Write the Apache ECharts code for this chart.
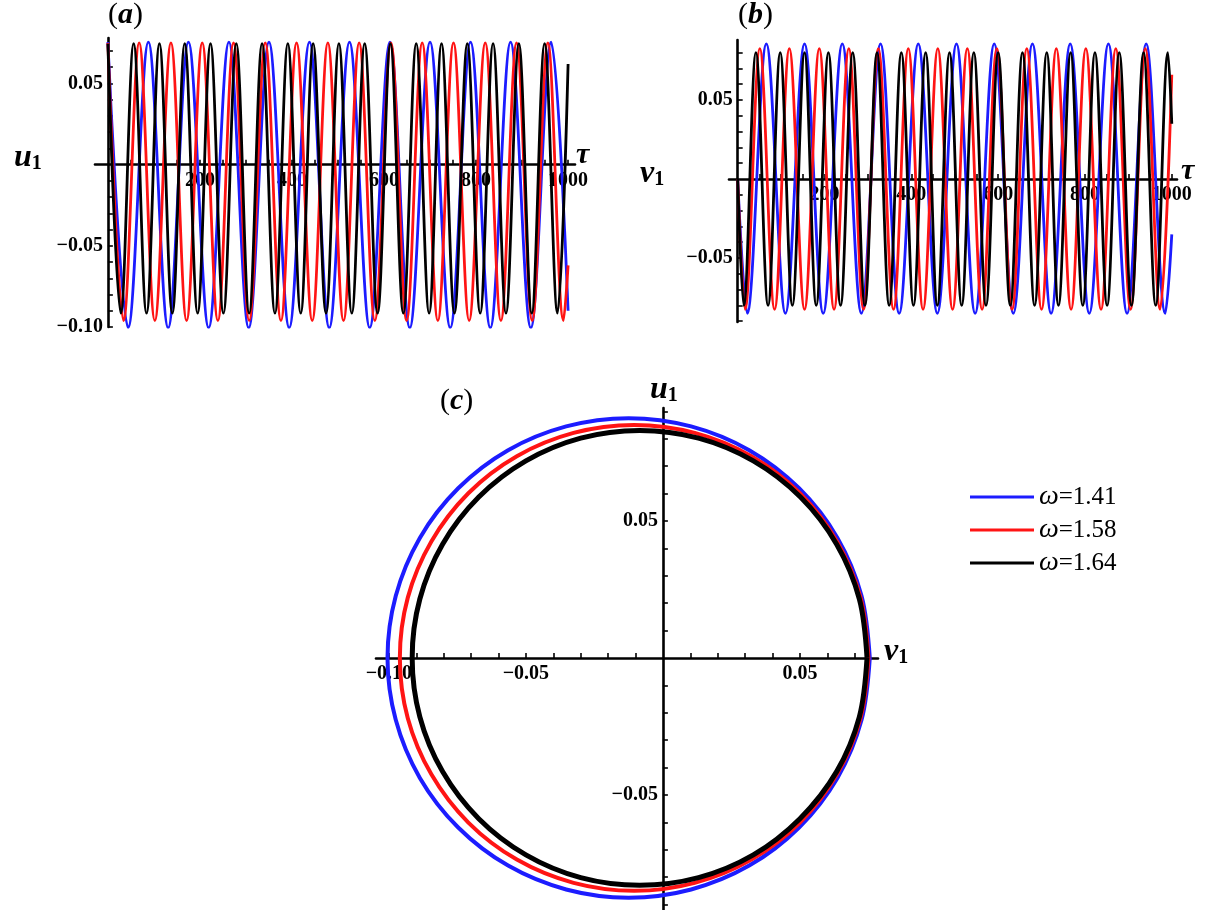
<!DOCTYPE html>
<html>
<head>
<meta charset="utf-8">
<script src="https://cdn.jsdelivr.net/npm/echarts@6/dist/echarts.min.js"></script>
<style>
  html, body { margin: 0; padding: 0; background: #ffffff; }
  #chart { width: 1210px; height: 910px; }
</style>
</head>
<body>
<div id="chart"></div>
<script>
// ---- series identity ----
const seriesNames = ['ω=1.41', 'ω=1.58', 'ω=1.64'];
const seriesColors = ['#1c1cff', '#ff1414', '#000000'];

// ---- (a) u1 versus tau: turning points [tau, u1] ----
const u1Blue = [[0,0.0755],[44,-0.1005],[88,0.0755],[131,-0.1005],[175,0.0755],[219,-0.1005],[263,0.0755],[306,-0.1005],[350,0.0755],[394,-0.1005],[438,0.0755],[481,-0.1005],[525,0.0755],[569,-0.1005],[613,0.0755],[656,-0.1005],[700,0.0755],[744,-0.1005],[788,0.0755],[831,-0.1005],[875,0.0755],[919,-0.1005],[963,0.0755],[1000,-0.090]];
const u1Red = [[0,0.075],[34,-0.096],[68,0.075],[102,-0.096],[137,0.075],[171,-0.096],[205,0.075],[239,-0.096],[273,0.075],[307,-0.096],[342,0.075],[376,-0.096],[410,0.075],[444,-0.096],[478,0.075],[512,-0.096],[546,0.075],[580,-0.096],[615,0.075],[649,-0.096],[683,0.075],[717,-0.096],[751,0.075],[785,-0.096],[820,0.075],[854,-0.096],[888,0.075],[922,-0.096],[956,0.075],[990,-0.096],[1000,-0.062]];
const u1Black = [[0,0.0745],[28,-0.0915],[56,0.0745],[84,-0.0915],[112,0.0745],[140,-0.0915],[167,0.0745],[195,-0.0915],[223,0.0745],[251,-0.0915],[279,0.0745],[307,-0.0915],[335,0.0745],[363,-0.0915],[391,0.0745],[419,-0.0915],[446,0.0745],[474,-0.0915],[502,0.0745],[530,-0.0915],[558,0.0745],[586,-0.0915],[614,0.0745],[642,-0.0915],[670,0.0745],[698,-0.0915],[725,0.0745],[753,-0.0915],[781,0.0745],[809,-0.0915],[837,0.0745],[865,-0.0915],[893,0.0745],[921,-0.0915],[949,0.0745],[977,-0.0915],[1000,0.062]];

// ---- (b) v1 versus tau: turning points [tau, v1] ----
const v1Blue = [[0,0],[22,-0.085],[66,0.0855],[110,-0.085],[154,0.0855],[197,-0.085],[241,0.0855],[285,-0.085],[329,0.0855],[372,-0.085],[416,0.0855],[460,-0.085],[504,0.0855],[547,-0.085],[591,0.0855],[635,-0.085],[679,0.0855],[722,-0.085],[766,0.0855],[810,-0.085],[854,0.0855],[897,-0.085],[941,0.0855],[985,-0.085],[1000,-0.035]];
const v1Red = [[0,0],[17,-0.0825],[51,0.0825],[85,-0.0825],[119,0.0825],[154,-0.0825],[188,0.0825],[222,-0.0825],[256,0.0825],[290,-0.0825],[324,0.0825],[359,-0.0825],[393,0.0825],[427,-0.0825],[461,0.0825],[495,-0.0825],[529,0.0825],[563,-0.0825],[597,0.0825],[632,-0.0825],[666,0.0825],[700,-0.0825],[734,0.0825],[768,-0.0825],[802,0.0825],[837,-0.0825],[871,0.0825],[905,-0.0825],[939,0.0825],[973,-0.0825],[1000,0.066]];
const v1Black = [[0,0],[14,-0.08],[42,0.08],[70,-0.08],[98,0.08],[126,-0.08],[154,0.08],[181,-0.08],[209,0.08],[237,-0.08],[265,0.08],[293,-0.08],[321,0.08],[349,-0.08],[377,0.08],[405,-0.08],[433,0.08],[460,-0.08],[488,0.08],[516,-0.08],[544,0.08],[572,-0.08],[600,0.08],[628,-0.08],[656,0.08],[684,-0.08],[712,0.08],[739,-0.08],[767,0.08],[795,-0.08],[823,0.08],[851,-0.08],[879,0.08],[907,-0.08],[935,0.08],[963,-0.08],[991,0.08],[1000,0.035]];

// ---- (c) phase portrait: closed orbits [v1, u1] ----
const orbitBlue = [[0.0755,0],[0.0725,0.0226],[0.0637,0.0438],[0.0497,0.0619],[0.0315,0.0758],[0.0103,0.0845],[-0.0125,0.0875],[-0.0353,0.0845],[-0.0565,0.0758],[-0.0747,0.0619],[-0.0887,0.0438],[-0.0975,0.0226],[-0.1005,0],[-0.0975,-0.0226],[-0.0887,-0.0438],[-0.0747,-0.0619],[-0.0565,-0.0758],[-0.0353,-0.0845],[-0.0125,-0.0875],[0.0103,-0.0845],[0.0315,-0.0758],[0.0497,-0.0619],[0.0637,-0.0438],[0.0725,-0.0226],[0.0755,0]];
const orbitRed = [[0.0750,0],[0.0721,0.0220],[0.0635,0.0425],[0.0500,0.0601],[0.0323,0.0736],[0.0116,0.0821],[-0.0105,0.085],[-0.0326,0.0821],[-0.0533,0.0736],[-0.0710,0.0601],[-0.0845,0.0425],[-0.0931,0.0220],[-0.0960,0],[-0.0931,-0.0220],[-0.0845,-0.0425],[-0.0710,-0.0601],[-0.0533,-0.0736],[-0.0326,-0.0821],[-0.0105,-0.085],[0.0116,-0.0821],[0.0323,-0.0736],[0.0500,-0.0601],[0.0635,-0.0425],[0.0721,-0.0220],[0.0750,0]];
const orbitBlack = [[0.0745,0],[0.0717,0.0215],[0.0634,0.0415],[0.0502,0.0587],[0.0330,0.0719],[0.0130,0.0802],[-0.0085,0.083],[-0.0300,0.0802],[-0.0500,0.0719],[-0.0672,0.0587],[-0.0804,0.0415],[-0.0887,0.0215],[-0.0915,0],[-0.0887,-0.0215],[-0.0804,-0.0415],[-0.0672,-0.0587],[-0.0500,-0.0719],[-0.0300,-0.0802],[-0.0085,-0.083],[0.0130,-0.0802],[0.0330,-0.0719],[0.0500,-0.0587],[0.0634,-0.0415],[0.0717,-0.0215],[0.0745,0]];

// ---- tick marks and tick labels ----
const tauTickMarks = [50,100,150,200,250,300,350,400,450,500,550,600,650,700,750,800,850,900,950,1000];
const tauTickLabels = [200,400,600,800,1000];
const u1TickMarksA = [-0.10,-0.09,-0.08,-0.07,-0.06,-0.05,-0.04,-0.03,-0.02,-0.01,0.01,0.02,0.03,0.04,0.05,0.06,0.07];
const u1TickLabelsA = [-0.10,-0.05,0.05];
const v1TickMarksB = [-0.09,-0.08,-0.07,-0.06,-0.05,-0.04,-0.03,-0.02,-0.01,0.01,0.02,0.03,0.04,0.05,0.06,0.07,0.08];
const v1TickLabelsB = [-0.05,0.05];
const v1TickMarksC = [-0.10,-0.09,-0.08,-0.07,-0.06,-0.05,-0.04,-0.03,-0.02,-0.01,0.01,0.02,0.03,0.04,0.05,0.06,0.07];
const v1TickLabelsC = [-0.10,-0.05,0.05];
const u1TickMarksC = [-0.09,-0.08,-0.07,-0.06,-0.05,-0.04,-0.03,-0.02,-0.01,0.01,0.02,0.03,0.04,0.05,0.06,0.07,0.08,0.09];
const u1TickLabelsC = [-0.05,0.05];

// ---- panel frames (pixel boxes) and axis ranges ----
const frames = [
  { left: 95,  top: 38,  width: 480, height: 289, x: [-28, 1015],        y: [-0.10, 0.078] },
  { left: 729, top: 40,  width: 448, height: 282, x: [-20, 1012],        y: [-0.0905, 0.088] },
  { left: 376, top: 408, width: 502, height: 502, x: [-0.1047, 0.0785], y: [-0.092, 0.0912] }
];

const SERIF = 'Liberation Serif';
const fmtDecimal = v => (v < 0 ? '\u2212' : '') + Math.abs(v).toFixed(2);
const fmtInt = v => String(Math.round(v));

// Axes cross at the origin: shift each axis (and its labels) from the frame edge to zero.
function xAxisFor(i, ticks, labels, fmt) {
  const f = frames[i];
  const zeroY = f.top + f.height * f.y[1] / (f.y[1] - f.y[0]);
  return baseAxis(i, f.x, ticks, labels, fmt, 6, 'bottom', -(f.top + f.height - zeroY));
}
function yAxisFor(i, ticks, labels, fmt) {
  const f = frames[i];
  const zeroX = f.left + f.width * (-f.x[0]) / (f.x[1] - f.x[0]);
  return baseAxis(i, f.y, ticks, labels, fmt, 5, 'left', -(zeroX - f.left));
}
function baseAxis(gridIndex, range, ticks, labels, fmt, labelMargin, position, offset) {
  return {
    type: 'value', gridIndex, min: range[0], max: range[1], position, offset,
    axisLine: { show: true, onZero: false, lineStyle: { color: '#000', width: 2.6 } },
    axisTick: { show: true, inside: true, length: 5, customValues: ticks, lineStyle: { color: '#000', width: 1.6 } },
    axisLabel: {
      show: true, customValues: labels, formatter: fmt, margin: labelMargin,
      fontFamily: SERIF, fontWeight: 'bold', fontSize: 20, color: '#000'
    },
    splitLine: { show: false },
    minorTick: { show: false }
  };
}

function line(name, colorIdx, xi, yi, data, width, smooth) {
  return {
    type: 'line', name, xAxisIndex: xi, yAxisIndex: yi, data,
    showSymbol: false, symbol: 'none', smooth, silent: true,
    lineStyle: { color: seriesColors[colorIdx], width },
    itemStyle: { color: seriesColors[colorIdx] },
    emphasis: { disabled: true }
  };
}

const varLabel = (letter) => ({
  text: '{m|' + letter + '}{s|1}',
  rich: {
    m: { fontFamily: SERIF, fontStyle: 'italic', fontWeight: 'bold', fontSize: 32, fill: '#000' },
    s: { fontFamily: SERIF, fontWeight: 'bold', fontSize: 20, fill: '#000', verticalAlign: 'bottom', padding: [12, 0, 0, 0] }
  }
});
const tauLabel = { text: 'τ', fontFamily: SERIF, fontStyle: 'italic', fontWeight: 'bold', fontSize: 30, fill: '#000' };
const panelLabel = (ch) => ({
  text: '{p|(}{i|' + ch + '}{p|)}',
  rich: {
    p: { fontFamily: SERIF, fontSize: 30, fill: '#000' },
    i: { fontFamily: SERIF, fontStyle: 'italic', fontWeight: 'bold', fontSize: 30, fill: '#000' }
  }
});

const option = {
  animation: false,
  backgroundColor: '#ffffff',
  grid: frames.map(f => ({ left: f.left, top: f.top, width: f.width, height: f.height })),
  xAxis: [
    xAxisFor(0, tauTickMarks, tauTickLabels, fmtInt),
    xAxisFor(1, tauTickMarks, tauTickLabels, fmtInt),
    xAxisFor(2, v1TickMarksC, v1TickLabelsC, fmtDecimal)
  ],
  yAxis: [
    yAxisFor(0, u1TickMarksA, u1TickLabelsA, fmtDecimal),
    yAxisFor(1, v1TickMarksB, v1TickLabelsB, fmtDecimal),
    yAxisFor(2, u1TickMarksC, u1TickLabelsC, fmtDecimal)
  ],
  legend: {
    data: seriesNames, orient: 'vertical', left: 965, top: 478,
    icon: 'rect', itemWidth: 64, itemHeight: 3, itemGap: 5, selectedMode: false,
    formatter: n => '{w|ω}{n|' + n.slice(1) + '}',
    textStyle: {
      rich: {
        w: { fontFamily: SERIF, fontStyle: 'italic', fontSize: 28, color: '#000' },
        n: { fontFamily: SERIF, fontSize: 25, color: '#000' }
      }
    }
  },
  graphic: [
    { type: 'text', left: 108, top: 0, style: panelLabel('a') },
    { type: 'text', left: 738, top: 0, style: panelLabel('b') },
    { type: 'text', left: 440, top: 386, style: panelLabel('c') },
    { type: 'text', left: 14, top: 142, style: varLabel('u') },
    { type: 'text', left: 576, top: 140, style: tauLabel },
    { type: 'text', left: 640, top: 158, style: varLabel('v') },
    { type: 'text', left: 1181, top: 156, style: tauLabel },
    { type: 'text', left: 650, top: 374, style: varLabel('u') },
    { type: 'text', left: 884, top: 636, style: varLabel('v') }
  ],
  series: [
    line(seriesNames[0], 0, 0, 0, u1Blue, 2.8, 0.36),
    line(seriesNames[1], 1, 0, 0, u1Red, 2.8, 0.36),
    line(seriesNames[2], 2, 0, 0, u1Black, 2.8, 0.36),
    line(seriesNames[0], 0, 1, 1, v1Blue, 2.8, 0.36),
    line(seriesNames[1], 1, 1, 1, v1Red, 2.8, 0.36),
    line(seriesNames[2], 2, 1, 1, v1Black, 2.8, 0.36),
    line(seriesNames[0], 0, 2, 2, orbitBlue, 4, 0.34),
    line(seriesNames[1], 1, 2, 2, orbitRed, 4, 0.34),
    line(seriesNames[2], 2, 2, 2, orbitBlack, 5, 0.34)
  ]
};

const chart = echarts.init(document.getElementById('chart'), null, { renderer: 'canvas' });
chart.setOption(option);
</script>
</body>
</html>
